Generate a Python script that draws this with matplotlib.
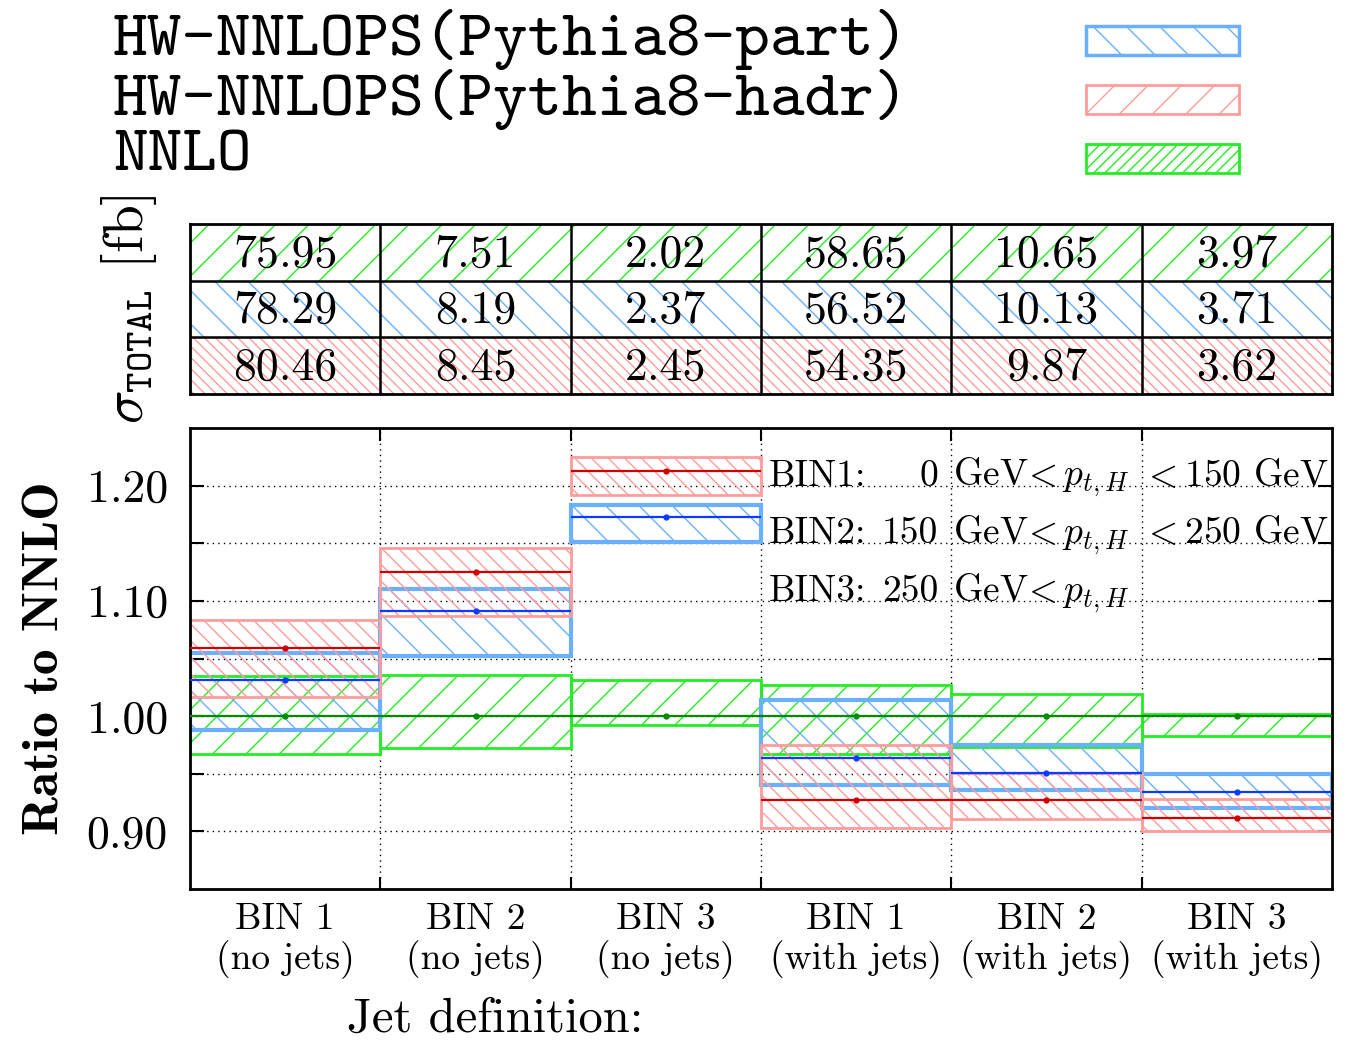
import numpy as np
import matplotlib
matplotlib.use('Agg')
import matplotlib.pyplot as plt
from matplotlib.patches import Rectangle

plt.rcParams['font.family'] = 'cmr10'
plt.rcParams['mathtext.fontset'] = 'cm'
plt.rcParams['axes.unicode_minus'] = False
plt.rcParams['hatch.linewidth'] = 1.0

# Data
bin_labels = ['BIN 1\n(no jets)', 'BIN 2\n(no jets)', 'BIN 3\n(no jets)',
              'BIN 1\n(with jets)', 'BIN 2\n(with jets)', 'BIN 3\n(with jets)']

# total cross sections [fb]
sigma_nnlo = ['75.95', '7.51', '2.02', '58.65', '10.65', '3.97']
sigma_part = ['78.29', '8.19', '2.37', '56.52', '10.13', '3.71']
sigma_hadr = ['80.46', '8.45', '2.45', '54.35', '9.87', '3.62']

# ratio to NNLO: central values and uncertainty bands
nnlo_c = [1.000, 1.000, 1.000, 1.000, 1.000, 1.000]
nnlo_lo = [0.967, 0.972, 0.992, 0.967, 0.973, 0.983]
nnlo_hi = [1.035, 1.036, 1.031, 1.027, 1.019, 1.002]

part_c = [1.031, 1.091, 1.173, 0.964, 0.951, 0.934]
part_lo = [0.988, 1.052, 1.151, 0.940, 0.936, 0.920]
part_hi = [1.055, 1.110, 1.183, 1.014, 0.975, 0.950]

hadr_c = [1.059, 1.125, 1.213, 0.927, 0.927, 0.912]
hadr_lo = [1.017, 1.087, 1.192, 0.903, 0.911, 0.900]
hadr_hi = [1.083, 1.146, 1.225, 0.975, 0.951, 0.928]

bin_text = [('BIN1:', '0', '150 GeV'),
            ('BIN2:', '150', '250 GeV'),
            ('BIN3:', '250', '')]

# styles
blue_band, blue_line = '#6ab0ff', '#0a3cff'
red_band, red_line = '#ff9c9c', '#d00000'
green_band, green_line = '#22ee22', '#008a00'

W, H = 1353, 1040
fig = plt.figure(figsize=(W / 100, H / 100), dpi=100)

x = np.arange(len(bin_labels)) + 0.5

# main ratio panel
ax = fig.add_axes([190 / W, 1 - 889 / H, 1142 / W, 461 / H])

series = [
    (nnlo_c, nnlo_lo, nnlo_hi, green_band, green_line, '/', 2.0),
    (part_c, part_lo, part_hi, blue_band, blue_line, '\\', 3.0),
    (hadr_c, hadr_lo, hadr_hi, red_band, red_line, '\\\\', 2.0),
]
for c, lo, hi, bc, lc, hatch, lw in series:
    lo = np.array(lo)
    hi = np.array(hi)
    ax.bar(x, hi - lo, bottom=lo, width=1.0, fill=False, hatch=hatch,
           edgecolor=bc, linewidth=lw, zorder=2)
    ax.hlines(c, x - 0.5, x + 0.5, color=lc, linewidth=1.6, zorder=3)
    ax.plot(x, c, 'o', color=lc, markersize=3.5, zorder=4)

ax.set_xlim(0, 6)
ax.set_ylim(0.85, 1.25)
ax.set_xticks(np.arange(1, 6))
ax.set_xticklabels([])
ax.set_xticks(x, minor=True)
ax.set_xticklabels(bin_labels, minor=True, fontsize=27, linespacing=1.15)
ax.tick_params(axis='x', which='minor', length=0, pad=10)
ax.tick_params(axis='x', which='major', direction='in', length=9, width=1.5,
               top=True)
ax.set_yticks([0.90, 1.00, 1.10, 1.20])
ax.set_yticklabels(['0.90', '1.00', '1.10', '1.20'], fontsize=33)
ax.set_yticks([0.95, 1.05, 1.15], minor=True)
ax.tick_params(axis='y', which='both', direction='in', length=10, width=1.5,
               right=True, pad=16)
ax.grid(True, which='major', color='black', linestyle=(0, (1, 3)), linewidth=1.0)
ax.grid(True, which='minor', axis='y', color='black', linestyle=(0, (1, 3)),
        linewidth=1.0)
ax.set_axisbelow(True)
for s in ax.spines.values():
    s.set_linewidth(2.0)

ax.set_ylabel('Ratio to NNLO', family='cmb10', fontsize=37, labelpad=13)
fig.text(495 / W, 1 - 1020 / H, 'Jet definition:', fontsize=35,
         ha='center', va='center')

# pt bin description
for i, (name, low, high) in enumerate(bin_text):
    yb = 1.20 - 0.05 * i
    ax.text(3.04, yb, name, fontsize=27, va='baseline', ha='left', zorder=5)
    ax.text(3.93, yb, low, fontsize=27, va='baseline', ha='right', zorder=5)
    ax.text(4.01, yb, r'GeV$\!< p_{t,H}$', fontsize=27, va='baseline',
            ha='left', zorder=5)
    if high:
        ax.text(5.0, yb, r'$<$' + high, fontsize=27,
                va='baseline', ha='left', zorder=5)

# cross section table
axt = fig.add_axes([190 / W, 1 - 394 / H, 1142 / W, 170 / H])
rows = [
    (sigma_nnlo, green_band, '/'),
    (sigma_part, blue_band, '\\'),
    (sigma_hadr, red_band, '\\\\\\'),
]
for r, (vals, col, hatch) in enumerate(rows):
    yr = 2 - r
    axt.bar(x, 1.0, bottom=yr, width=1.0, fill=False, hatch=hatch,
            edgecolor=col, linewidth=0)
    for xi, v in zip(x, vals):
        axt.text(xi, yr + 0.46, v, fontsize=33, ha='center', va='center')
axt.set_xlim(0, 6)
axt.set_ylim(0, 3)
for xe in range(1, 6):
    axt.axvline(xe, color='black', linewidth=1.8)
for ye in (1, 2):
    axt.axhline(ye, color='black', linewidth=1.8)
axt.set_xticks([])
axt.set_yticks([])
for s in axt.spines.values():
    s.set_linewidth(2.0)
axt.set_ylabel(r'$\sigma_{\mathtt{TOTAL}}$ [fb]', fontsize=40, labelpad=22)

# legend
axl = fig.add_axes([0, 1 - 200 / H, 1, 200 / H])
axl.set_xlim(0, W)
axl.set_ylim(200, 0)
axl.axis('off')
leg = [('HW-NNLOPS(Pythia8-part)', blue_band, '\\', 2.5),
       ('HW-NNLOPS(Pythia8-hadr)', red_band, '/', 2.0),
       ('NNLO', green_band, '///', 2.0)]
for i, (lab, col, hatch, lw) in enumerate(leg):
    yc = 40 + 59 * i
    axl.text(113, yc, lab, family='cmtt10', fontsize=47.5, ha='left',
             va='center')
    axl.add_patch(Rectangle((1086, yc - 14), 153, 29, fill=False, hatch=hatch,
                            edgecolor=col, linewidth=lw))

fig.savefig('out.png', dpi=100)
